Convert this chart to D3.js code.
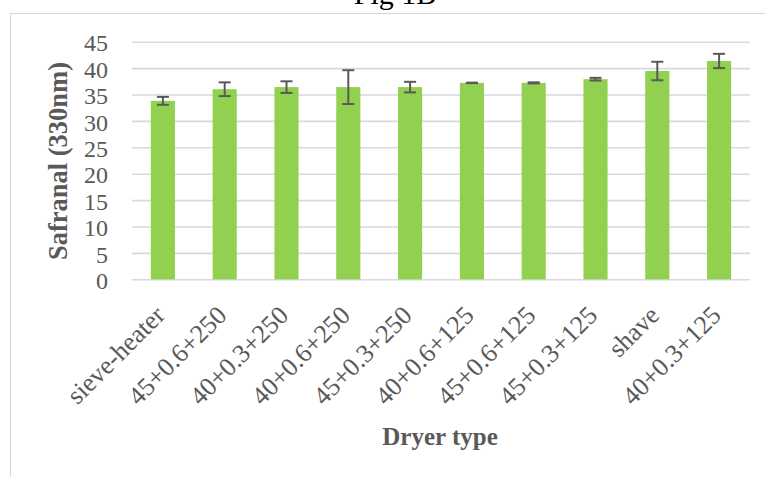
<!DOCTYPE html>
<html>
<head>
<meta charset="utf-8">
<script src="https://cdn.jsdelivr.net/npm/d3@7"></script>
<style>
  html, body { margin: 0; padding: 0; background: #fff; }
  svg { display: block; }
</style>
</head>
<body>
<svg id="chart" width="765" height="477"></svg>
<script>
// Safranal absorbance (330 nm) by dryer type, mean ± error
const categories = ["sieve-heater", "45+0.6+250", "40+0.3+250", "40+0.6+250", "45+0.3+250",
                    "40+0.6+125", "45+0.6+125", "45+0.3+125", "shave", "40+0.3+125"];
const values = [33.8, 36.0, 36.4, 36.4, 36.4, 37.2, 37.2, 37.9, 39.45, 41.35];
const errors = [0.75, 1.3, 1.1, 3.2, 1.0, 0.05, 0.1, 0.25, 1.75, 1.35];
const yTicks = [0, 5, 10, 15, 20, 25, 30, 35, 40, 45];

const svg = d3.select("#chart");
const W = 765, H = 477;
const plot = { left: 132, right: 750, top: 41.7, bottom: 279.3 };
const serif = "'Liberation Serif', 'Times New Roman', serif";
const grey = "#595959";

// chart frame
svg.append("rect")
  .attr("x", 10.5).attr("y", 13.5)
  .attr("width", W + 20).attr("height", H + 20)
  .attr("fill", "none").attr("stroke", "#d9d9d9").attr("stroke-width", 1.2);

// title
svg.append("text")
  .attr("x", 395).attr("y", 4)
  .attr("text-anchor", "middle")
  .attr("font-family", serif).attr("font-size", 30)
  .attr("fill", "#000")
  .text("Fig 1B");

const x = d3.scaleBand()
  .domain(categories)
  .range([plot.left, plot.right])
  .paddingInner(0.61)
  .paddingOuter(0.305);

const y = d3.scaleLinear()
  .domain([0, 45])
  .range([plot.bottom, plot.top]);

// horizontal gridlines
const grid = svg.append("g")
  .attr("transform", `translate(${plot.left},0)`)
  .call(d3.axisLeft(y).tickValues(yTicks).tickSize(-(plot.right - plot.left)).tickFormat(""));
grid.select(".domain").remove();
grid.selectAll(".tick line").attr("stroke", "#d9d9d9").attr("stroke-width", 1.6);

// y tick labels
const yAxis = svg.append("g")
  .attr("transform", `translate(108,0)`)
  .call(d3.axisLeft(y).tickValues(yTicks).tickSize(0).tickPadding(0));
yAxis.select(".domain").remove();
yAxis.selectAll("text")
  .attr("font-family", serif).attr("font-size", 24)
  .attr("fill", grey).attr("dy", "0.38em");

// bars
const data = categories.map((c, i) => ({ c, v: values[i], e: errors[i] }));
svg.append("g").selectAll("rect")
  .data(data).join("rect")
  .attr("x", d => x(d.c))
  .attr("y", d => y(d.v))
  .attr("width", x.bandwidth())
  .attr("height", d => y(0) - y(d.v))
  .attr("fill", "#92d050");

// error bars
const eb = svg.append("g").attr("stroke", grey).attr("stroke-width", 2).attr("fill", "none");
const cx = d => x(d.c) + x.bandwidth() / 2;
eb.selectAll("line.stem").data(data).join("line")
  .attr("class", "stem")
  .attr("x1", cx).attr("x2", cx)
  .attr("y1", d => y(d.v + d.e)).attr("y2", d => y(d.v - d.e));
eb.selectAll("line.capTop").data(data).join("line")
  .attr("class", "capTop")
  .attr("x1", d => cx(d) - 6).attr("x2", d => cx(d) + 6)
  .attr("y1", d => y(d.v + d.e)).attr("y2", d => y(d.v + d.e));
eb.selectAll("line.capBot").data(data).join("line")
  .attr("class", "capBot")
  .attr("x1", d => cx(d) - 6).attr("x2", d => cx(d) + 6)
  .attr("y1", d => y(d.v - d.e)).attr("y2", d => y(d.v - d.e));

// x tick labels, rotated
const xAxis = svg.append("g")
  .attr("transform", `translate(0,${plot.bottom})`)
  .call(d3.axisBottom(x).tickSize(0).tickPadding(0));
xAxis.select(".domain").remove();
xAxis.selectAll("text")
  .attr("font-family", serif).attr("font-size", 26)
  .attr("fill", grey)
  .attr("text-anchor", "end")
  .attr("dy", "0.35em")
  .attr("transform", "translate(-3,31) rotate(-45)");

// axis titles
svg.append("text")
  .attr("transform", "translate(67,161) rotate(-90)")
  .attr("text-anchor", "middle")
  .attr("font-family", serif).attr("font-size", 26.5).attr("font-weight", "bold")
  .attr("fill", grey)
  .text("Safranal (330nm)");

svg.append("text")
  .attr("x", 440).attr("y", 445)
  .attr("text-anchor", "middle")
  .attr("font-family", serif).attr("font-size", 25).attr("font-weight", "bold")
  .attr("fill", grey)
  .text("Dryer type");
</script>
</body>
</html>
